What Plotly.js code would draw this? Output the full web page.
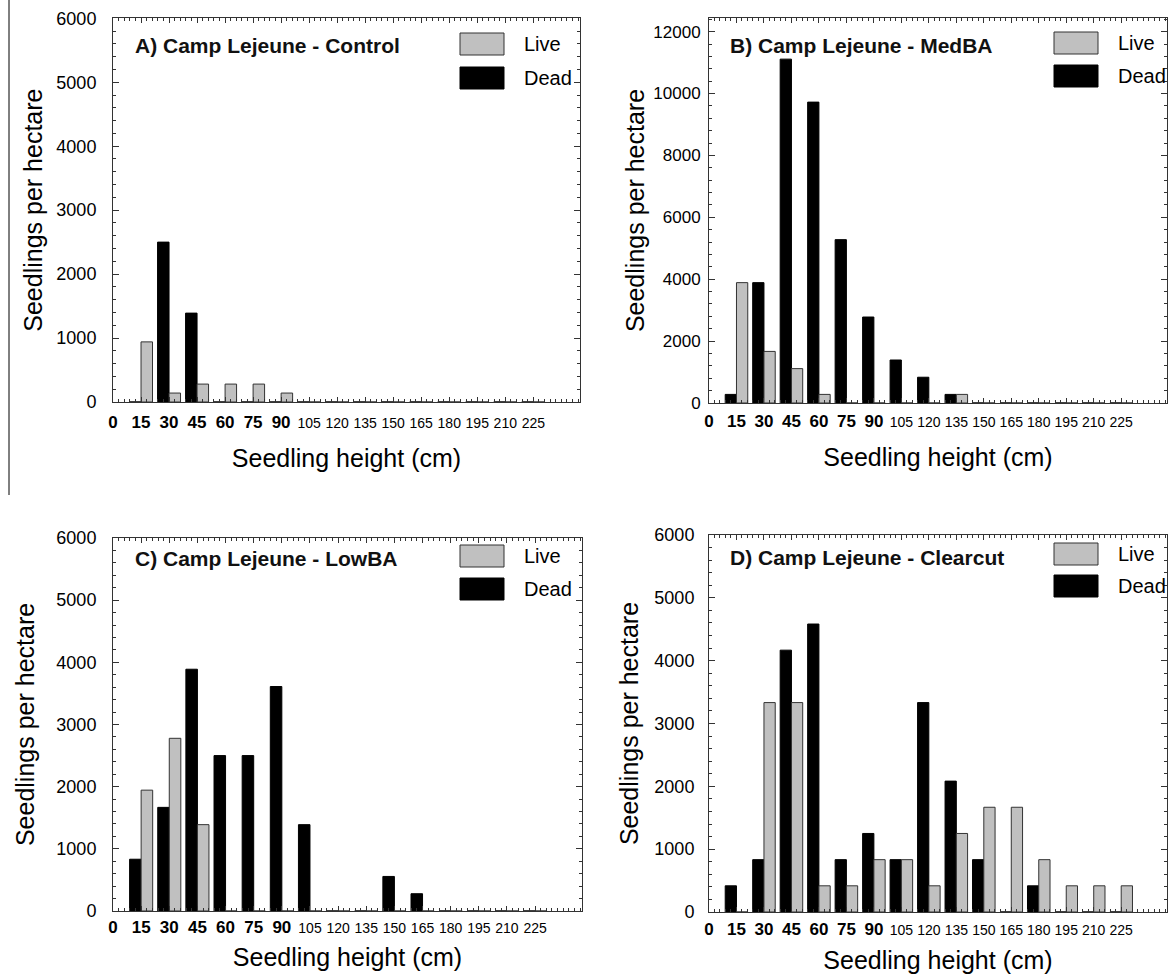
<!DOCTYPE html>
<html><head><meta charset="utf-8">
<script src="https://cdn.plot.ly/plotly-3.0.1.min.js"></script>
<style>html,body{margin:0;padding:0;background:#fff}#chart{width:1171px;height:977px}</style>
</head><body><div id="chart"></div>
<script>
// ---- data ----
const heights = [15,30,45,60,75,90,105,120,135,150,165,180,195,210,225];
const tickValues = [0,15,30,45,60,75,90,105,120,135,150,165,180,195,210,225];
const tickLabels = ['0','15','30','45','60','75','90','105','120','135','150','165','180','195','210','225'];
const panelTitles = ['A) Camp Lejeune - Control','B) Camp Lejeune - MedBA','C) Camp Lejeune - LowBA','D) Camp Lejeune - Clearcut'];
const seriesNames = ['Live','Dead'];
const xTitle = 'Seedling height (cm)';
const yTitle = 'Seedlings per hectare';

const liveA = [940,140,280,280,280,140,0,0,0,0,0,0,0,0,0];
const deadA = [0,2500,1390,0,0,0,0,0,0,0,0,0,0,0,0];
const liveB = [3889,1667,1111,278,0,0,0,0,278,0,0,0,0,0,0];
const deadB = [278,3889,11111,9722,5278,2778,1389,833,278,0,0,0,0,0,0];
const liveC = [1944,2778,1389,0,0,0,0,0,0,0,0,0,0,0,0];
const deadC = [833,1667,3889,2500,2500,3611,1389,0,0,556,278,0,0,0,0];
const liveD = [0,3333,3333,417,417,833,833,417,1250,1667,1667,833,417,417,417];
const deadD = [417,833,4167,4583,833,1250,833,3333,2083,833,0,417,0,0,0];

// ---- layout helpers ----
const W = 1171, H = 977;
const px = x => x / W;
const py = y => 1 - y / H;
const FONT = 'Liberation Sans, Arial, sans-serif';
const AX = '#333';

const tickText = tickLabels.map((t, i) => tickValues[i] >= 105 ? '<span style="font-size:14px">' + t + '</span>' : '<b>' + t + '</b>');

const panels = [
  {live: liveA, dead: deadA, x: [113, 580], y: [18.3, 402], ymax: 6000, dtick: 1000, xs: 'x', ys: 'y',
   tickStand: 5, xtStand: 18, ytStand: 6, yls: 12, yfs: 18, titleX: 133, titleY: 45, legX: 460, legY: [33, 67]},
  {live: liveB, dead: deadB, x: [709, 1167], y: [18, 403], ymax: 12440, dtick: 2000, xs: 'x2', ys: 'y2',
   tickStand: 3, xtStand: 18, ytStand: 1, yls: 4, yfs: 17, titleX: 728, titleY: 45, legX: 1054, legY: [32, 65]},
  {live: liveC, dead: deadC, x: [113, 582], y: [538, 911], ymax: 6000, dtick: 1000, xs: 'x3', ys: 'y3',
   tickStand: 1, xtStand: 12, ytStand: 14, yls: 12, yfs: 18, titleX: 133, titleY: 558, legX: 460, legY: [545, 578]},
  {live: liveD, dead: deadD, x: [709, 1167], y: [535, 912], ymax: 6000, dtick: 1000, xs: 'x4', ys: 'y4',
   tickStand: 2, xtStand: 13, ytStand: 8, yls: 10, yfs: 18, titleX: 728, titleY: 557, legX: 1054, legY: [543, 575]}
];

const data = [];
const layout = {
  width: W, height: H, margin: {l: 0, r: 0, t: 0, b: 0},
  paper_bgcolor: '#fff', plot_bgcolor: '#fff',
  font: {family: FONT, color: '#000'},
  barmode: 'group', bargap: 0.18, bargroupgap: 0,
  showlegend: false, shapes: [], annotations: []
};

panels.forEach((p, i) => {
  const n = i === 0 ? '' : String(i + 1);
  data.push({type: 'bar', x: heights, y: p.dead, name: seriesNames[1], xaxis: p.xs, yaxis: p.ys,
    marker: {color: '#000', line: {color: '#000', width: 1}}, hoverinfo: 'x+y+name'});
  data.push({type: 'bar', x: heights, y: p.live, name: seriesNames[0], xaxis: p.xs, yaxis: p.ys,
    marker: {color: '#c0c0c0', line: {color: '#333', width: 1}}, hoverinfo: 'x+y+name'});

  layout['xaxis' + n] = {
    domain: [px(p.x[0]), px(p.x[1])], anchor: p.ys, range: [0, 250],
    tickmode: 'array', tickvals: tickValues, ticktext: tickText,
    ticks: 'inside', ticklen: 5, tickwidth: 1, tickcolor: AX,
    showline: true, linecolor: AX, linewidth: 1, mirror: 'ticks',
    showgrid: false, zeroline: false, fixedrange: true, automargin: false,
    tickfont: {size: 17, family: FONT, color: '#000'}, ticklabelstandoff: p.tickStand,
    minor: {tickmode: 'linear', tick0: 0, dtick: 3, ticks: 'inside', ticklen: 3, tickwidth: 1, tickcolor: AX, showgrid: false},
    title: {text: xTitle, font: {size: 25, family: FONT, color: '#000'}, standoff: p.xtStand}
  };
  layout['yaxis' + n] = {
    domain: [py(p.y[1]), py(p.y[0])], anchor: p.xs, range: [0, p.ymax],
    tickmode: 'linear', tick0: 0, dtick: p.dtick, tickformat: 'd',
    ticks: 'inside', ticklen: 6, tickwidth: 1, tickcolor: AX,
    showline: true, linecolor: AX, linewidth: 1, mirror: 'ticks',
    showgrid: false, zeroline: false, fixedrange: true, automargin: false,
    tickfont: {size: p.yfs, family: FONT, color: '#000'}, ticklabelstandoff: p.yls,
    minor: {tickmode: 'linear', tick0: 0, dtick: p.dtick / 5, ticks: 'inside', ticklen: 3, tickwidth: 1, tickcolor: AX, showgrid: false},
    title: {text: yTitle, font: {size: 25, family: FONT, color: '#000'}, standoff: p.ytStand}
  };

  // panel label
  layout.annotations.push({text: panelTitles[i], xref: 'paper', yref: 'paper', x: px(p.titleX), y: py(p.titleY),
    xanchor: 'left', yanchor: 'middle', showarrow: false, font: {size: 21, family: FONT, color: '#111', weight: 'bold'}});
  // legend (manual, large swatches)
  const swatch = [{fill: '#c0c0c0', line: '#333'}, {fill: '#000', line: '#000'}];
  [0, 1].forEach(k => {
    const top = p.legY[k];
    layout.shapes.push({type: 'rect', xref: 'paper', yref: 'paper',
      x0: px(p.legX), x1: px(p.legX + 44), y0: py(top + 22), y1: py(top),
      fillcolor: swatch[k].fill, line: {color: swatch[k].line, width: 1}});
    layout.annotations.push({text: seriesNames[k], xref: 'paper', yref: 'paper',
      x: px(p.legX + 62), y: py(top + 11), xanchor: 'left', yanchor: 'middle', showarrow: false,
      font: {size: 20, family: FONT, color: '#000'}});
  });
});

// stray vertical rule at far left of the source figure
layout.shapes.push({type: 'line', xref: 'paper', yref: 'paper', x0: px(9), x1: px(9), y0: py(0), y1: py(495),
  line: {color: '#000', width: 1}});

Plotly.newPlot('chart', data, layout, {displayModeBar: false, staticPlot: true});
</script>
</body></html>
